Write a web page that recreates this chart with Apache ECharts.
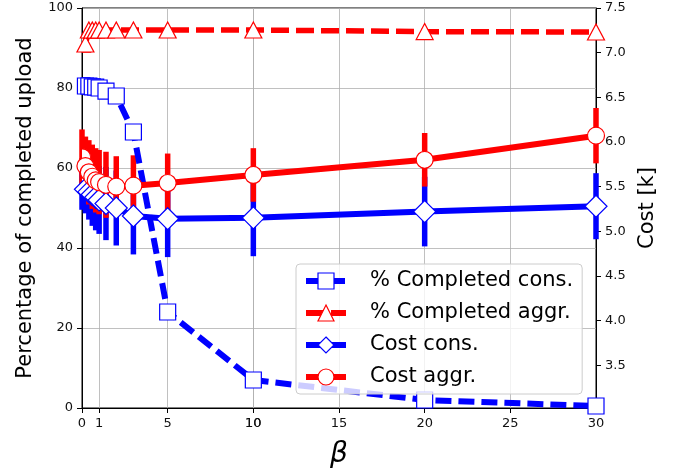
<!DOCTYPE html>
<html>
<head>
<meta charset="utf-8">
<script src="https://cdn.jsdelivr.net/npm/echarts@6/dist/echarts.min.js"></script>
<style>html,body{margin:0;padding:0;background:#fff;}#c{width:680px;height:474px;}</style>
</head>
<body>
<div id="c"></div>
<script>
const beta = [0, 0.2, 0.4, 0.6, 0.8, 1, 1.4, 2, 3, 5, 10, 20, 30];
const completedCons = [80.5, 80.5, 80.5, 80.3, 80.2, 80, 79.2, 78, 69, 24, 7, 2, 0.5];
const completedAggr = [91, 91, 94.5, 94.5, 94.5, 94.5, 94.5, 94.5, 94.5, 94.5, 94.5, 94.1, 94];
const costCons = [5.50, 5.47, 5.44, 5.41, 5.38, 5.35, 5.31, 5.26, 5.17, 5.14, 5.15, 5.22, 5.28];
const costConsErr = [0.26, 0.27, 0.31, 0.35, 0.37, 0.38, 0.41, 0.42, 0.43, 0.43, 0.43, 0.39, 0.37];
const costAggr = [5.83, 5.73, 5.66, 5.61, 5.57, 5.55, 5.52, 5.50, 5.51, 5.54, 5.63, 5.80, 6.07];
const costAggrErr = [0.31, 0.33, 0.36, 0.36, 0.36, 0.36, 0.37, 0.34, 0.34, 0.33, 0.30, 0.30, 0.31];
const xTicks = [0, 1, 5, 10, 10, 15, 20, 25, 30];
const costTicks = [3.5, 4.0, 4.5, 5.0, 5.5, 6.0, 6.5, 7.0, 7.5];
const names = ['% Completed cons.', '% Completed aggr.', 'Cost cons.', 'Cost aggr.'];

const BLUE = '#0000ff', RED = '#ff0000';
const FONT = 'DejaVu Sans';

// Right-half marker shapes, used for points sitting on the left border (clipped like the plot area)
const HALF = {
  rect: 'path://M0,0L10,0L10,20L0,20',
  triangle: 'path://M0,0L10,20L0,20',
  diamond: 'path://M0,0L10,10L0,20',
  circle: 'path://M0,0A10,10,0,0,1,0,20'
};
const pairs = (ys, sym, size) => beta.map((b, i) => {
  if (b !== 0) return [b, ys[i]];
  const w = Array.isArray(size) ? size[0] : size;
  const h = Array.isArray(size) ? size[1] : size;
  return { value: [b, ys[i]], symbol: HALF[sym], symbolSize: [w / 2, h], symbolOffset: [w / 4, 0] };
});
const errData = (ys, es) => beta.map((b, i) => [b, ys[i] - es[i], ys[i] + es[i]]);
const errRender = (color) => (params, api) => {
  const x = api.value(0);
  const p1 = api.coord([x, api.value(1)]);
  const p2 = api.coord([x, api.value(2)]);
  return { type: 'line', shape: { x1: p1[0], y1: p1[1], x2: p2[0], y2: p2[1] },
           style: { stroke: color, lineWidth: 5.5 } };
};
const lineSeries = (name, yIdx, ys, sym, size, color, width, dash) => ({
  name: name, type: 'line', yAxisIndex: yIdx, data: pairs(ys, sym, size),
  symbol: sym, symbolSize: size, showAllSymbol: true,
  lineStyle: { color: color, width: width, type: dash || 'solid' },
  itemStyle: { color: '#fff', borderColor: color, borderWidth: 1.2 }
});

const chart = echarts.init(document.getElementById('c'));
chart.setOption({
  animation: false,
  grid: { left: 82, right: 84, top: 8, bottom: 66, show: true, borderColor: '#000', borderWidth: 1 },
  xAxis: {
    type: 'value', min: 0, max: 30,
    name: 'β', nameLocation: 'middle', nameGap: 33,
    nameTextStyle: { fontFamily: FONT, fontSize: 28, fontStyle: 'italic', color: '#000' },
    axisLine: { lineStyle: { color: '#000', width: 1 } },
    axisTick: { length: 5, customValues: xTicks, lineStyle: { color: '#000' } },
    axisLabel: { customValues: xTicks, margin: 9, fontFamily: FONT, fontSize: 13, color: '#111' },
    splitLine: { show: true, lineStyle: { color: '#b0b0b0', width: 0.8 } }
  },
  yAxis: [{
    type: 'value', min: 0, max: 100, interval: 20, position: 'left',
    name: 'Percentage of completed upload', nameLocation: 'middle', nameGap: 46, nameRotate: 90,
    nameTextStyle: { fontFamily: FONT, fontSize: 21, color: '#000' },
    axisLine: { show: true, lineStyle: { color: '#000', width: 1 } },
    axisTick: { show: true, length: 5, lineStyle: { color: '#000' } },
    axisLabel: { margin: 9, fontFamily: FONT, fontSize: 13, color: '#111' },
    splitLine: { show: true, lineStyle: { color: '#b0b0b0', width: 0.8 } }
  }, {
    type: 'value', min: 3.02, max: 7.5, position: 'right',
    name: 'Cost [k]', nameLocation: 'middle', nameGap: 38, nameRotate: 90,
    nameTextStyle: { fontFamily: FONT, fontSize: 21, color: '#000' },
    axisLine: { show: true, lineStyle: { color: '#000', width: 1 } },
    axisTick: { show: true, length: 5, customValues: costTicks, lineStyle: { color: '#000' } },
    axisLabel: { customValues: costTicks, margin: 9, fontFamily: FONT, fontSize: 13, color: '#111',
                 formatter: (v) => Number(v).toFixed(1) },
    splitLine: { show: false }
  }],
  legend: {
    orient: 'vertical', left: 296, top: 264,
    data: names,
    itemWidth: 40, itemHeight: 20, itemGap: 8,
    padding: [5, 9, 5, 7],
    backgroundColor: 'rgba(255,255,255,0.8)', borderColor: '#cccccc', borderWidth: 1, borderRadius: 4,
    textStyle: { fontFamily: FONT, fontSize: 21, color: '#000', lineHeight: 24, padding: [0, 0, 0, 19] },
    lineStyle: { width: 6 },
    itemStyle: { borderWidth: 1.2 }
  },
  series: [
    lineSeries(names[0], 0, completedCons, 'rect', 16, BLUE, 6, [16, 7]),
    lineSeries(names[1], 0, completedAggr, 'triangle', [17, 16], RED, 5.5, [18, 7]),
    {
      name: 'err cons', type: 'custom', yAxisIndex: 1, data: errData(costCons, costConsErr),
      renderItem: errRender(BLUE), encode: { x: 0, y: [1, 2] }
    }, {
      name: 'err aggr', type: 'custom', yAxisIndex: 1, data: errData(costAggr, costAggrErr),
      renderItem: errRender(RED), encode: { x: 0, y: [1, 2] }
    },
    lineSeries(names[2], 1, costCons, 'diamond', 22, BLUE, 6),
    lineSeries(names[3], 1, costAggr, 'circle', 17, RED, 6)
  ]
});
</script>
</body>
</html>
